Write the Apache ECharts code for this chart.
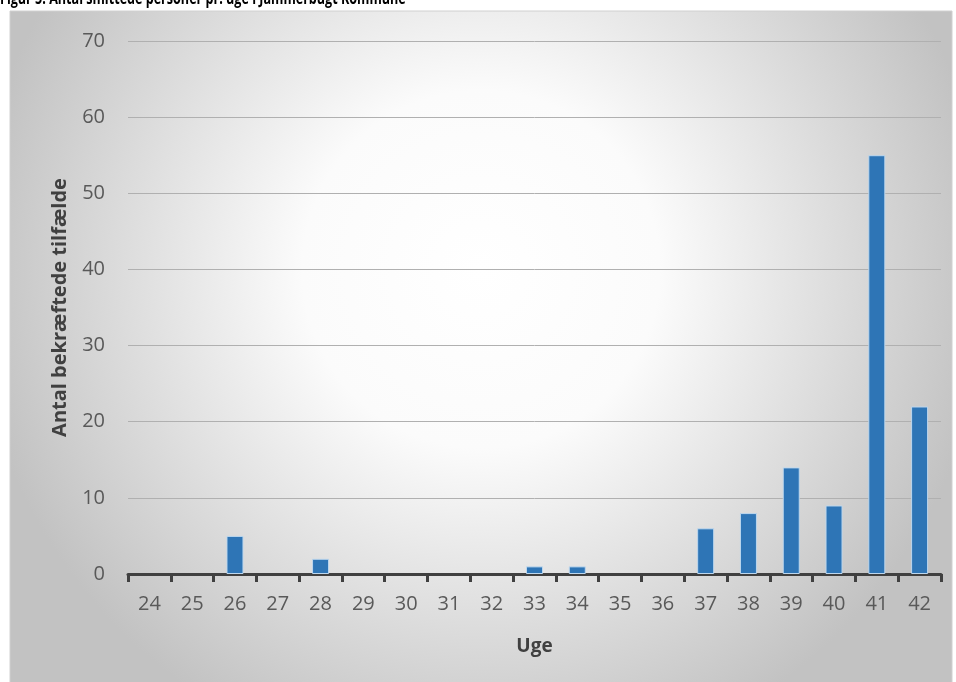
<!DOCTYPE html>
<html>
<head>
<meta charset="utf-8">
<style>
  html, body { margin: 0; padding: 0; background: #ffffff; }
  #chart { width: 956px; height: 682px; }
</style>
<script src="https://cdn.jsdelivr.net/npm/echarts@6/dist/echarts.min.js"></script>
</head>
<body>
<div id="chart"></div>
<script>
// Weekly confirmed cases, Jammerbugt Kommune
const weeks = ['24','25','26','27','28','29','30','31','32','33','34','35','36','37','38','39','40','41','42'];
const cases = [0, 0, 5, 0, 2, 0, 0, 0, 0, 1, 1, 0, 0, 6, 8, 14, 9, 55, 22];
const yTicks = { min: 0, max: 70, interval: 10 };

const titleText = 'Figur 5: Antal smittede personer pr. uge i Jammerbugt Kommune';
const yAxisTitle = 'Antal bekræftede tilfælde';
const xAxisTitle = 'Uge';

const FONT = '"Open Sans", "Liberation Sans", sans-serif';

const chart = echarts.init(document.getElementById('chart'), null, { renderer: 'canvas' });

// empty weeks get no outline so nothing shows on the axis
const barData = cases.map(v => ({
  value: v,
  itemStyle: v === 0 ? { borderWidth: 0 } : undefined
}));

chart.setOption({
  animation: false,
  graphic: [
    {
      type: 'rect',
      z: -10,
      shape: { x: 10, y: 11, width: 942, height: 680 },
      style: {
        fill: new echarts.graphic.RadialGradient(0.5, 0.38, 0.75, [
          { offset: 0, color: '#ffffff' },
          { offset: 0.35, color: '#fbfbfb' },
          { offset: 1, color: '#c2c2c2' }
        ]),
        stroke: '#d0d0d0',
        lineWidth: 1
      }
    },
    {
      type: 'text',
      x: 0,
      y: 8,
      scaleX: 0.74,
      style: {
        text: titleText,
        font: 'bold 17px ' + FONT,
        fill: '#000000',
        verticalAlign: 'bottom'
      }
    }
  ],
  grid: { left: 128, right: 15, top: 41, bottom: 108 },
  xAxis: {
    type: 'category',
    data: weeks,
    name: xAxisTitle,
    nameLocation: 'middle',
    nameGap: 63,
    nameTextStyle: { fontFamily: FONT, fontSize: 19, fontWeight: 'bold', color: '#404040' },
    axisLine: { lineStyle: { color: '#404040', width: 3 } },
    axisTick: { show: true, length: 8, lineStyle: { color: '#404040', width: 3 } },
    axisLabel: { margin: 20, fontFamily: FONT, fontSize: 20, color: '#595959' }
  },
  yAxis: {
    type: 'value',
    min: yTicks.min,
    max: yTicks.max,
    interval: yTicks.interval,
    name: yAxisTitle,
    nameLocation: 'middle',
    nameGap: 58,
    nameRotate: 90,
    nameTextStyle: { fontFamily: FONT, fontSize: 20, fontWeight: 'bold', color: '#404040' },
    axisLine: { show: false },
    axisTick: { show: false },
    axisLabel: { margin: 23, fontFamily: FONT, fontSize: 20, color: '#595959' },
    splitLine: { lineStyle: { color: '#b0b0b0', width: 1 } }
  },
  series: [
    {
      type: 'bar',
      data: barData,
      barWidth: 17,
      itemStyle: { color: '#2e75b6', borderColor: '#bdd7ee', borderWidth: 1 }
    }
  ]
});
</script>
</body>
</html>
